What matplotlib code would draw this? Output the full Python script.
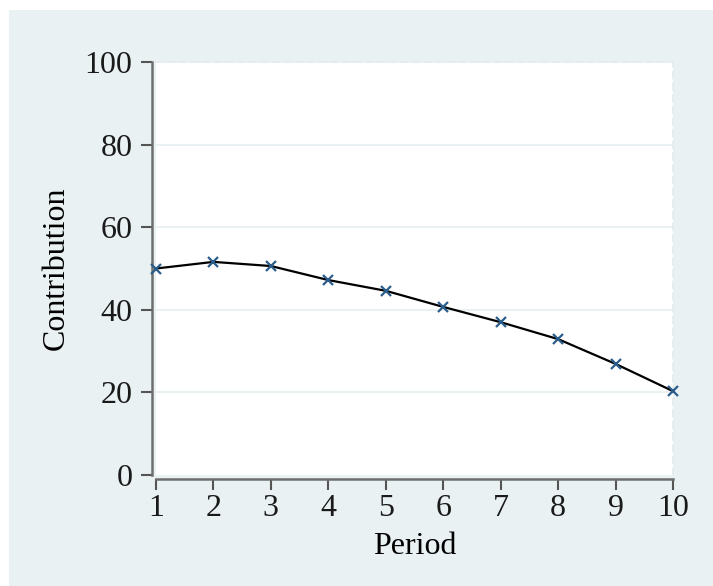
import numpy as np
from matplotlib import pyplot as plt
from matplotlib.patches import Rectangle

period = [1, 2, 3, 4, 5, 6, 7, 8, 9, 10]
contribution = [50.0, 51.6, 50.6, 47.2, 44.6, 40.7, 37.0, 32.9, 26.9, 20.3]
yticks = [0, 20, 40, 60, 80, 100]

plt.rcParams['font.family'] = ['Liberation Serif', 'DejaVu Serif']

bg = '#e9f1f3'
fig = plt.figure(figsize=(7.13, 5.86), dpi=100)
fig.patch.set_facecolor('white')
fig.patches.append(Rectangle((9 / 713, 0), 1, 1 - 10 / 586, transform=fig.transFigure,
                             facecolor=bg, edgecolor='none', zorder=-10))

ax = fig.add_axes([156 / 713, 111 / 586, 517 / 713, 413 / 586])
ax.set_facecolor('white')
ax.set_xlim(1, 10)
ax.set_ylim(0, 100)

for y in yticks[1:]:
    ax.axhline(y, color='#e6eff1', linewidth=1.2, zorder=0)

ax.plot(period, contribution, color='black', linewidth=1.6, zorder=2, clip_on=False)
ax.plot(period, contribution, linestyle='none', marker='x', markersize=7,
        markeredgewidth=1.6, color='#2c5d8a', zorder=3, clip_on=False)

for s in ['top', 'right']:
    ax.spines[s].set_color('#e3ebed')
    ax.spines[s].set_linewidth(1.2)
    ax.spines[s].set_linestyle((0, (4, 3)))
for s in ['left', 'bottom']:
    ax.spines[s].set_color('#6e6e6e')
    ax.spines[s].set_linewidth(1.8)
    ax.spines[s].set_position(('outward', 3))

ax.set_xticks(period)
ax.set_yticks(yticks)
ax.tick_params(axis='both', length=8, width=1.5, color='#555555', labelsize=23,
               labelcolor='#1a1a1a', pad=3)
ax.tick_params(axis='y', pad=6)
ax.set_xlabel('Period', fontsize=23, labelpad=6)
ax.set_ylabel('Contribution', fontsize=23, labelpad=10)

fig.savefig('out.png', dpi=100, facecolor=fig.get_facecolor())
